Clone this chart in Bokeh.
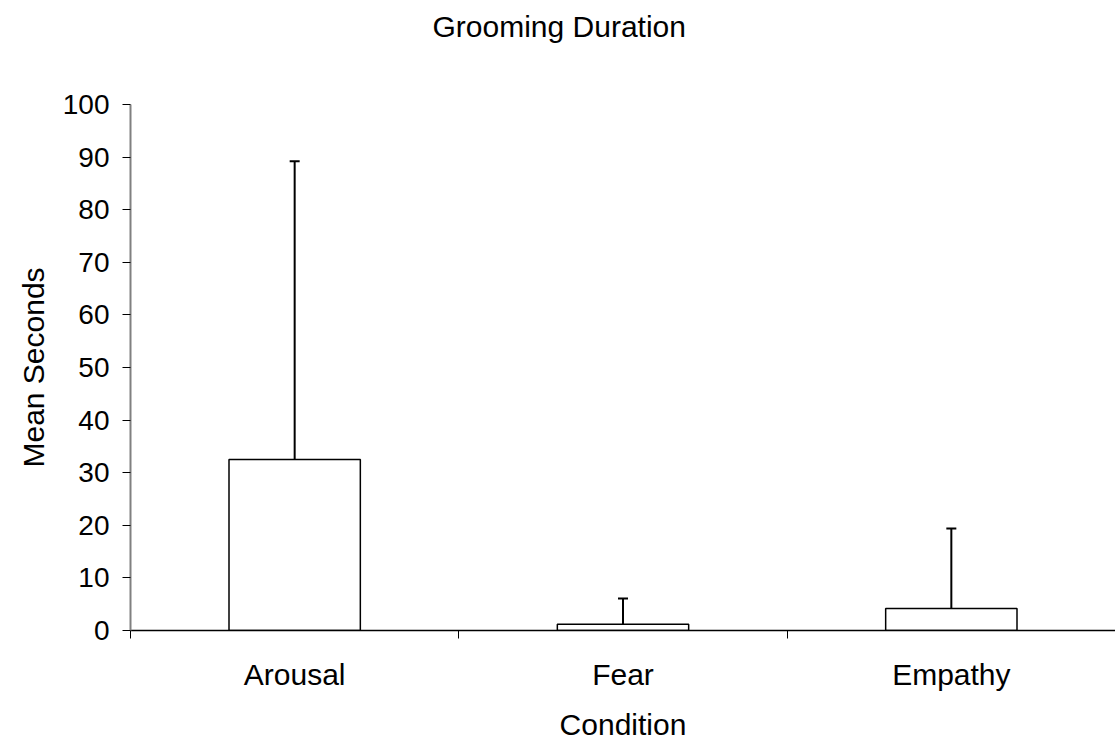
from bokeh.plotting import figure
from bokeh.models import (ColumnDataSource, Range1d, FixedTicker, SingleIntervalTicker,
                          Whisker, TeeHead, Title)
from bokeh.embed import file_html
from bokeh.resources import INLINE

categories = ["Arousal", "Fear", "Empathy"]
mean_seconds = [32.5, 1.2, 4.2]
sd_seconds = [56.7, 4.9, 15.2]
title_text = "Grooming Duration"
x_label = "Condition"
y_label = "Mean Seconds"

x_pos = [i + 0.5 for i in range(len(categories))]
upper = [m + s for m, s in zip(mean_seconds, sd_seconds)]

src = ColumnDataSource(dict(x=x_pos, mean=mean_seconds, upper=upper, cat=categories))

FONT = "Liberation Sans"

p = figure(frame_width=985, frame_height=526, output_backend="svg", toolbar_location=None,
           x_range=Range1d(0, len(categories)), y_range=Range1d(0, 100),
           min_border_left=130, min_border_right=0, min_border_top=104, min_border_bottom=0)
p.outline_line_color = None
p.xgrid.grid_line_color = None
p.ygrid.grid_line_color = None
p.background_fill_color = "white"
p.border_fill_color = "white"

# spacer between frame and title, then the title further out
p.add_layout(Title(text=" ", text_font=FONT, text_font_size="29px", standoff=28), "above")
p.add_layout(Title(text=title_text, align="left", offset=302, standoff=0,
                   text_font=FONT, text_font_size="30px", text_font_style="normal",
                   text_color="black"), "above")

p.vbar(x="x", top="mean", bottom=0, width=0.4, source=src,
       fill_color="white", line_color="black", line_width=1.5)

wh = Whisker(base="x", lower="mean", upper="upper", source=src, dimension="height",
             line_color="black", line_width=2,
             upper_head=TeeHead(size=10, line_color="black", line_width=2),
             lower_head=None)
p.add_layout(wh)

# x axis
p.xaxis.ticker = FixedTicker(ticks=x_pos, minor_ticks=list(range(len(categories) + 1)))
p.xaxis.major_label_overrides = {xv: c for xv, c in zip(x_pos, categories)}
p.xaxis.major_tick_out = 0
p.xaxis.major_tick_in = 0
p.xaxis.minor_tick_out = 8
p.xaxis.minor_tick_in = 0
p.xaxis.minor_tick_line_color = "black"
p.xaxis.axis_line_color = "black"
p.xaxis.axis_line_width = 1.5
p.xaxis.major_label_standoff = 19
p.xaxis.major_label_text_font_size = "30px"
p.xaxis.axis_label = x_label
p.xaxis.axis_label_standoff = 14

# y axis
p.yaxis.ticker = SingleIntervalTicker(interval=10, num_minor_ticks=0)
p.yaxis.axis_line_color = "#808080"
p.yaxis.axis_line_width = 2
p.yaxis.major_tick_line_color = "black"
p.yaxis.major_tick_out = 8
p.yaxis.major_tick_in = 0
p.yaxis.minor_tick_line_color = None
p.yaxis.major_label_standoff = 13
p.yaxis.major_label_text_font_size = "28px"
p.yaxis.axis_label = y_label
p.yaxis.axis_label_standoff = 10

for ax in (p.xaxis, p.yaxis):
    ax.major_label_text_font = FONT
    ax.major_label_text_color = "black"
    ax.axis_label_text_font = FONT
    ax.axis_label_text_font_size = "30px"
    ax.axis_label_text_font_style = "normal"
    ax.axis_label_text_color = "black"

open("out.html", "w").write(file_html(p, INLINE))
